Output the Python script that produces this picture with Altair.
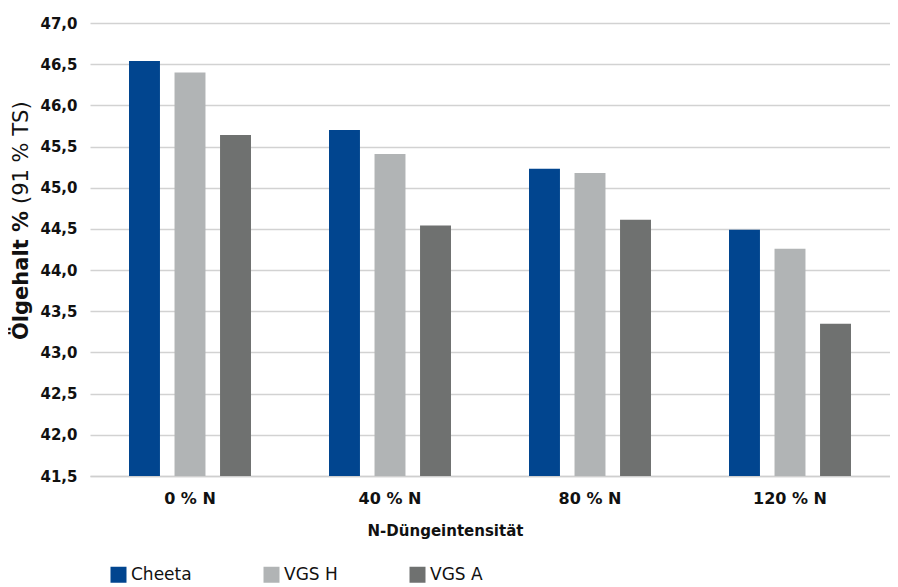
import altair as alt
import pandas as pd

categories = ["0 % N", "40 % N", "80 % N", "120 % N"]
series = ["Cheeta", "VGS H", "VGS A"]
cheeta = [46.54, 45.70, 45.23, 44.49]
vgs_h = [46.40, 45.41, 45.18, 44.26]
vgs_a = [45.64, 44.54, 44.61, 43.35]
y_ticks = [41.5, 42.0, 42.5, 43.0, 43.5, 44.0, 44.5, 45.0, 45.5, 46.0, 46.5, 47.0]
colors = ["#01458f", "#b1b4b5", "#6f7170"]
x_title = "N-Düngeintensität"
y_title_bold = ["Ölgehalt %"]
y_title_regular = ["(91 % TS)"]

FONT = "DejaVu Sans"

rows = []
for name, vals in zip(series, [cheeta, vgs_h, vgs_a]):
    for cat, v in zip(categories, vals):
        rows.append({"Gruppe": cat, "Sorte": name, "Wert": v})
df = pd.DataFrame(rows)

bars = alt.Chart(df).mark_bar(clip=True).encode(
    x=alt.X(
        "Gruppe:N",
        sort=categories,
        scale=alt.Scale(paddingInner=0, paddingOuter=0),
        axis=alt.Axis(
            title=x_title,
            labelAngle=0,
            ticks=False,
            domain=True,
            domainColor="#cfcfcf",
            domainWidth=1.5,
            labelFont=FONT,
            labelFontSize=16,
            labelFontWeight="bold",
            labelColor="#111111",
            labelPadding=14,
            titleFont=FONT,
            titleFontSize=15,
            titleFontWeight="bold",
            titleColor="#111111",
            titlePadding=17,
            titleX=355,
            grid=False,
        ),
    ),
    xOffset=alt.XOffset(
        "Sorte:N",
        sort=series,
        scale=alt.Scale(paddingInner=0.32, paddingOuter=0.857),
    ),
    y=alt.Y(
        "Wert:Q",
        scale=alt.Scale(domain=[41.5, 47.0], zero=False, nice=False),
        axis=alt.Axis(
            title=None,
            values=y_ticks,
            labelExpr="replace(format(datum.value, '.1f'), '.', ',')",
            grid=True,
            gridColor="#d2d2d2",
            gridWidth=1.5,
            domain=False,
            ticks=False,
            labelFont=FONT,
            labelFontSize=15,
            labelFontWeight="bold",
            labelColor="#111111",
            labelPadding=13,
            labelFlush=False,
        ),
    ),
    color=alt.Color(
        "Sorte:N",
        sort=series,
        scale=alt.Scale(domain=series, range=colors),
        legend=alt.Legend(
            title=None,
            orient="none",
            legendX=20,
            legendY=543,
            direction="horizontal",
            symbolType="square",
            symbolSize=256,
            symbolStrokeWidth=0,
            symbolOpacity=1,
            labelFont=FONT,
            labelFontSize=17,
            labelColor="#111111",
            labelOffset=4,
            columnPadding=71,
            padding=0,
        ),
    ),
)

title_bold = alt.Chart(pd.DataFrame({"t": y_title_bold})).mark_text(
    angle=270, align="left", baseline="middle", font=FONT, fontSize=21,
    fontWeight="bold", color="#111111",
).encode(text="t:N", x=alt.value(-68), y=alt.value(317))

title_regular = alt.Chart(pd.DataFrame({"t": y_title_regular})).mark_text(
    angle=270, align="left", baseline="middle", font=FONT, fontSize=21,
    fontWeight="normal", color="#111111",
).encode(text="t:N", x=alt.value(-68), y=alt.value(181))

chart = alt.layer(bars, title_bold, title_regular).properties(
    width=800,
    height=453,
    autosize=alt.AutoSizeParams(type="none"),
    padding={"left": 82, "top": 15, "right": 0, "bottom": 111},
    background="white",
).configure_view(stroke=None)

chart.save("out.html", embed_options={"renderer": "svg", "actions": False})
